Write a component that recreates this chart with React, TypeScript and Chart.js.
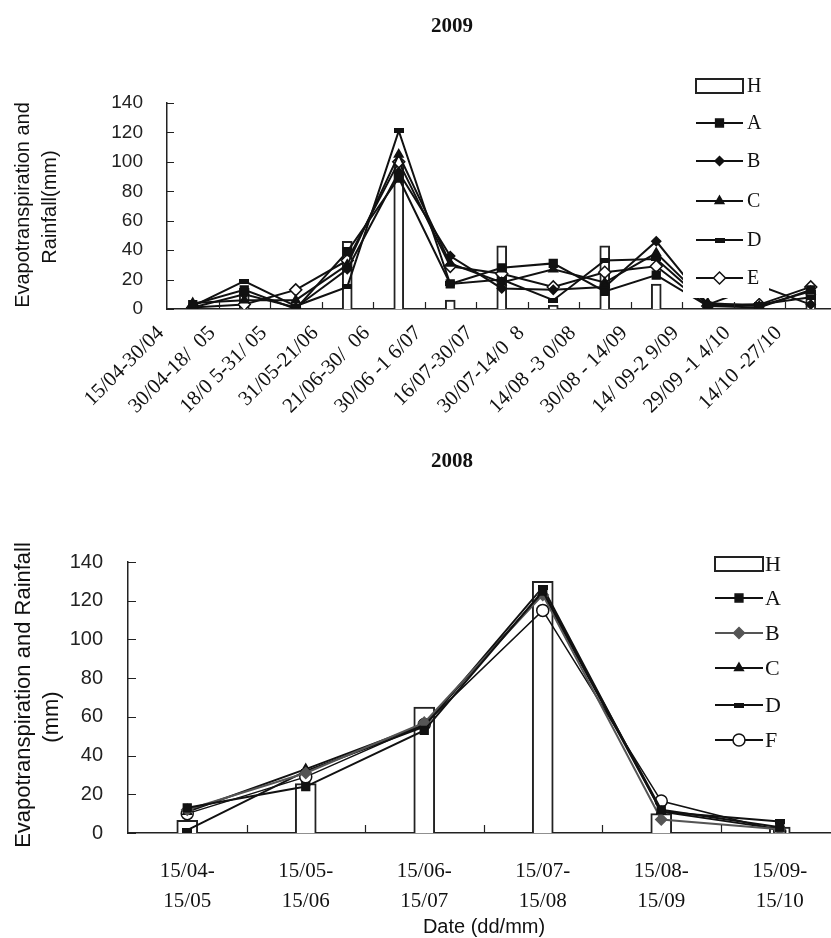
import React, { useEffect, useRef } from 'react';
import { Chart, registerables } from 'chart.js';
import { drawPoint } from 'chart.js/helpers';
Chart.register(...registerables);

const SANS = '"Liberation Sans", Arial, sans-serif';
const SERIF = '"Liberation Serif", "Times New Roman", serif';

// ---------- 2009 data ----------
const cats2009 = [
  '15/04-30/04', '30/04-18/  05', '18/0 5-31/ 05', '31/05-21/06', '21/06-30/  06',
  '30/06 -1 6/07', '16/07-30/07', '30/07-14/0  8', '14/08 -3 0/08', '30/08 - 14/09',
  '14/ 09-2 9/09', '29/09 -1 4/10', '14/10 -27/10',
];
const rain2009 = [2, 14, 3, 46, 98, 6, 43, 2.5, 43, 17, 3, 2, 13];
const a2009 = [3, 13, 0, 39, 89, 17, 28, 31, 12, 23, 2, 1, 13];
const b2009 = [1, 10, 1, 27, 93, 36, 14, 13, 15, 46, 3, 16, 3];
const c2009 = [4, 6, 6, 30, 105, 31, 18, 27, 18, 38, 4, 2, 12];
const d2009 = [2, 19, 2, 15, 121, 17, 20, 6, 33, 34, 3, 3, 8];
const e2009 = [1, 3, 13, 33, 100, 29, 24, 15, 25, 29, 2, 3, 15];

// ---------- 2008 data ----------
const cats2008 = [
  ['15/04-', '15/05'], ['15/05-', '15/06'], ['15/06-', '15/07'],
  ['15/07-', '15/08'], ['15/08-', '15/09'], ['15/09-', '15/10'],
];
const rain2008 = [6.5, 25.5, 65, 130, 10, 3];
const a2008 = [13, 24, 53, 125, 12, 3];
const b2008 = [12, 31, 57, 123, 7, 2];
const c2008 = [11, 33, 56, 124, 11, 2];
const d2008 = [1.5, 32, 55, 127, 11, 6];
const f2008 = [10, 29, 56, 115, 16.5, 1];

const yTickValues = [0, 20, 40, 60, 80, 100, 120, 140];

function dashCanvas(w: number, h: number) {
  const c = document.createElement('canvas');
  c.width = w;
  c.height = h;
  const x = c.getContext('2d')!;
  x.fillStyle = '#111';
  x.fillRect(0, 0, w, h);
  return c;
}

type LegendItem = {
  label: string;
  kind: 'bar' | 'line';
  color?: string;
  pointStyle?: any;
  radius?: number;
  fill?: string;
};

type Deco = {
  title: string;
  titleX: number;
  titleY: number;
  titleSize: number;
  yTitles: { text: string; x: number; y: number }[];
  yTitleSize: number;
  xTitle?: { text: string; x: number; y: number; size: number };
  legend: {
    box: [number, number, number, number];
    lineX0: number;
    lineX1: number;
    textX: number;
    ys: number[];
    barH: number;
    fontSize: number;
    items: LegendItem[];
  };
  tickLen: number;
};

function makePlugin(d: Deco) {
  return {
    id: 'deco',
    afterDraw(chart: any) {
      const ctx = chart.ctx as CanvasRenderingContext2D;
      const xs = chart.scales.x;
      const ys = chart.scales.y;
      ctx.save();
      // inward ticks
      ctx.strokeStyle = '#222';
      ctx.lineWidth = 1.2;
      const axX = chart.chartArea.left;
      const axY = chart.chartArea.bottom;
      ctx.beginPath();
      yTickValues.forEach((v) => {
        const py = Math.round(ys.getPixelForValue(v)) + 0.5;
        ctx.moveTo(axX, py);
        ctx.lineTo(axX + d.tickLen, py);
      });
      const n = xs.ticks.length;
      for (let i = 1; i < n; i++) {
        const px = Math.round((xs.getPixelForTick(i - 1) + xs.getPixelForTick(i)) / 2) + 0.5;
        ctx.moveTo(px, axY);
        ctx.lineTo(px, axY - d.tickLen);
      }
      ctx.stroke();

      // legend with white background
      const L = d.legend;
      ctx.fillStyle = '#fff';
      ctx.fillRect(L.box[0], L.box[1], L.box[2], L.box[3]);
      ctx.font = `${L.fontSize}px ${SERIF}`;
      ctx.textBaseline = 'middle';
      ctx.textAlign = 'left';
      L.items.forEach((it, i) => {
        const y = L.ys[i];
        if (it.kind === 'bar') {
          ctx.fillStyle = '#fff';
          ctx.strokeStyle = '#222';
          ctx.lineWidth = 2;
          ctx.fillRect(L.lineX0, y - L.barH / 2, L.lineX1 - L.lineX0, L.barH);
          ctx.strokeRect(L.lineX0, y - L.barH / 2, L.lineX1 - L.lineX0, L.barH);
        } else {
          ctx.strokeStyle = it.color || '#111';
          ctx.lineWidth = 2;
          ctx.beginPath();
          ctx.moveTo(L.lineX0, y);
          ctx.lineTo(L.lineX1, y);
          ctx.stroke();
          ctx.fillStyle = it.fill || it.color || '#111';
          ctx.strokeStyle = it.color || '#111';
          ctx.lineWidth = 1.5;
          drawPoint(ctx, { pointStyle: it.pointStyle, radius: it.radius || 4, rotation: 0, borderWidth: 1.5 } as any, (L.lineX0 + L.lineX1) / 2, y);
        }
        ctx.fillStyle = '#111';
        ctx.fillText(it.label, L.textX, y + 1);
      });

      // titles
      ctx.fillStyle = '#111';
      ctx.textAlign = 'center';
      ctx.textBaseline = 'middle';
      ctx.font = `bold ${d.titleSize}px ${SERIF}`;
      ctx.fillText(d.title, d.titleX, d.titleY);
      ctx.font = `${d.yTitleSize}px ${SANS}`;
      d.yTitles.forEach((t) => {
        ctx.save();
        ctx.translate(t.x, t.y);
        ctx.rotate(-Math.PI / 2);
        ctx.fillText(t.text, 0, 0);
        ctx.restore();
      });
      if (d.xTitle) {
        ctx.font = `${d.xTitle.size}px ${SANS}`;
        ctx.fillText(d.xTitle.text, d.xTitle.x, d.xTitle.y);
      }
      ctx.restore();
    },
  };
}

function lineDs(label: string, data: number[], pointStyle: any, radius: number, fill: string, color = '#111', width = 2) {
  return {
    type: 'line' as const,
    label,
    data,
    borderColor: color,
    borderWidth: width,
    backgroundColor: fill,
    pointBackgroundColor: fill,
    pointBorderColor: color,
    pointBorderWidth: 1.5,
    pointStyle,
    pointRadius: radius,
    tension: 0,
    order: 0,
  };
}

function ChartTop() {
  const ref = useRef<HTMLCanvasElement>(null);
  useEffect(() => {
    const W = 860, H = 450;
    const dash = dashCanvas(10, 5);
    const chart = new Chart(ref.current!, {
      type: 'bar',
      data: {
        labels: cats2009,
        datasets: [
          {
            type: 'bar',
            label: 'H',
            data: rain2009,
            backgroundColor: '#fff',
            borderColor: '#222',
            borderWidth: 2,
            barThickness: 10,
            order: 1,
          } as any,
          lineDs('A', a2009, 'rect', 5.5, '#111'),
          lineDs('B', b2009, 'rectRot', 4.5, '#111'),
          lineDs('C', c2009, 'triangle', 5, '#111'),
          lineDs('D', d2009, dash, 5, '#111'),
          lineDs('E', e2009, 'rectRot', 6, '#fff'),
        ],
      },
      options: {
        responsive: false,
        animation: false,
        layout: { padding: { left: 0, top: 103, right: W - 836.5, bottom: 0 } },
        plugins: { legend: { display: false }, tooltip: { enabled: false }, title: { display: false } },
        scales: {
          x: {
            offset: true,
            grid: { display: false },
            border: { display: true, color: '#222', width: 1.5 },
            ticks: {
              autoSkip: false,
              minRotation: 45,
              maxRotation: 45,
              labelOffset: -32,
              padding: 4,
              color: '#111',
              font: { family: SERIF, size: 21 },
            },
            afterFit: (s: any) => { s.height = H - 309; },
          },
          y: {
            min: 0,
            max: 140,
            grid: { display: false },
            border: { display: true, color: '#222', width: 1.5 },
            ticks: {
              stepSize: 20,
              padding: 16,
              color: '#222',
              font: { family: SANS, size: 19 },
              callback: (v: any) => (yTickValues.includes(Number(v)) ? String(v) : ''),
            },
            afterFit: (s: any) => { s.width = 167; },
          },
        },
      },
      plugins: [
        makePlugin({
          title: '2009',
          titleX: 452,
          titleY: 27,
          titleSize: 21,
          yTitles: [
            { text: 'Evapotranspiration and', x: 23, y: 205 },
            { text: 'Rainfall(mm)', x: 50, y: 207 },
          ],
          yTitleSize: 20,
          legend: {
            box: [683, 68, 86, 230],
            lineX0: 696,
            lineX1: 743,
            textX: 747,
            ys: [86, 123, 161, 201, 240, 278],
            barH: 14,
            fontSize: 20,
            items: [
              { label: 'H', kind: 'bar' },
              { label: 'A', kind: 'line', pointStyle: 'rect', radius: 5.5 },
              { label: 'B', kind: 'line', pointStyle: 'rectRot', radius: 4.5 },
              { label: 'C', kind: 'line', pointStyle: 'triangle', radius: 5 },
              { label: 'D', kind: 'line', pointStyle: dash, radius: 5 },
              { label: 'E', kind: 'line', pointStyle: 'rectRot', radius: 6, fill: '#fff' },
            ],
          },
          tickLen: 7,
        }),
      ],
    } as any);
    return () => chart.destroy();
  }, []);
  return <canvas ref={ref} width={860} height={450} style={{ position: 'absolute', left: 0, top: 0, width: 860, height: 450 }} />;
}

function ChartBottom() {
  const ref = useRef<HTMLCanvasElement>(null);
  useEffect(() => {
    const W = 860, H = 498, OY = 440;
    const dash = dashCanvas(10, 5);
    const chart = new Chart(ref.current!, {
      type: 'bar',
      data: {
        labels: cats2008,
        datasets: [
          {
            type: 'bar',
            label: 'H',
            data: rain2008,
            backgroundColor: '#fff',
            borderColor: '#222',
            borderWidth: 2,
            barThickness: 21,
            order: 1,
          } as any,
          lineDs('A', a2008, 'rect', 5.5, '#111'),
          lineDs('B', b2008, 'rectRot', 5.5, '#555', '#555'),
          lineDs('C', c2008, 'triangle', 5, '#111'),
          lineDs('D', d2008, dash, 5, '#111'),
          lineDs('F', f2008, 'circle', 6, '#fff', '#111', 1.5),
        ],
      },
      options: {
        responsive: false,
        animation: false,
        layout: { padding: { left: 0, top: 562 - OY, right: W - 839, bottom: 0 } },
        plugins: { legend: { display: false }, tooltip: { enabled: false }, title: { display: false } },
        scales: {
          x: {
            offset: true,
            grid: { display: false },
            border: { display: true, color: '#222', width: 1.5 },
            ticks: {
              autoSkip: false,
              maxRotation: 0,
              minRotation: 0,
              padding: 16,
              color: '#111',
              font: { family: SERIF, size: 21, lineHeight: 1.4 },
            },
            afterFit: (s: any) => { s.height = H - (833 - OY); },
          },
          y: {
            min: 0,
            max: 140,
            grid: { display: false },
            border: { display: true, color: '#222', width: 1.5 },
            ticks: {
              stepSize: 20,
              padding: 17,
              color: '#222',
              font: { family: SANS, size: 20 },
            },
            afterFit: (s: any) => { s.width = 128; },
          },
        },
      },
      plugins: [
        makePlugin({
          title: '2008',
          titleX: 452,
          titleY: 462 - OY,
          titleSize: 21,
          yTitles: [
            { text: 'Evapotranspiration and Rainfall', x: 24, y: 695 - OY },
            { text: '(mm)', x: 52, y: 717 - OY },
          ],
          yTitleSize: 22,
          xTitle: { text: 'Date (dd/mm)', x: 484, y: 927 - OY, size: 20 },
          legend: {
            box: [705, 545 - OY, 100, 210],
            lineX0: 715,
            lineX1: 763,
            textX: 765,
            ys: [564 - OY, 598 - OY, 633 - OY, 668 - OY, 705 - OY, 740 - OY],
            barH: 14,
            fontSize: 22,
            items: [
              { label: 'H', kind: 'bar' },
              { label: 'A', kind: 'line', pointStyle: 'rect', radius: 5.5 },
              { label: 'B', kind: 'line', pointStyle: 'rectRot', radius: 5.5, color: '#555' },
              { label: 'C', kind: 'line', pointStyle: 'triangle', radius: 5 },
              { label: 'D', kind: 'line', pointStyle: dash, radius: 5 },
              { label: 'F', kind: 'line', pointStyle: 'circle', radius: 6, fill: '#fff' },
            ],
          },
          tickLen: 8,
        }),
      ],
    } as any);
    return () => chart.destroy();
  }, []);
  return <canvas ref={ref} width={860} height={498} style={{ position: 'absolute', left: 0, top: 440, width: 860, height: 498 }} />;
}

export default function App() {
  return (
    <div style={{ position: 'absolute', left: 0, top: 0, width: 831, height: 938, overflow: 'hidden', background: '#fff' }}>
      <ChartTop />
      <ChartBottom />
    </div>
  );
}
